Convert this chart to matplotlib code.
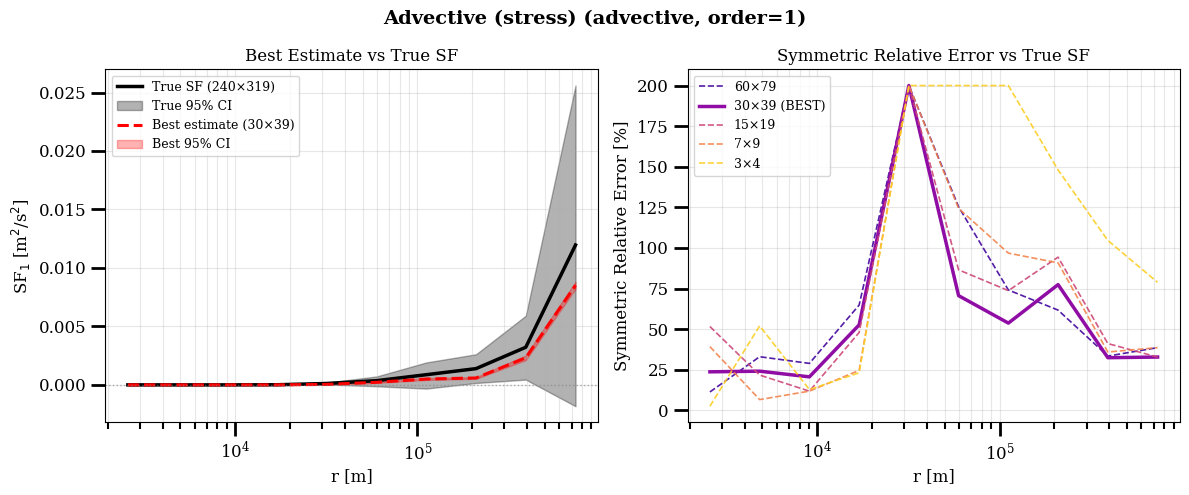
import numpy as np
import matplotlib
matplotlib.use("Agg")
import matplotlib.pyplot as plt

plt.rcParams['font.family'] = ['DejaVu Serif']

# Data
r = [2579, 4834, 9060, 16980, 31820, 59640, 111800, 209500, 392700, 736000]

true_sf = [-0.00002, -0.00002, -0.00002, -0.00001, 0.0001, 0.00034, 0.00085, 0.00137, 0.0032, 0.01195]
true_lo = [-0.00004, -0.00004, -0.00004, -0.00003, 0.00002, -0.00014, -0.00034, 0.00014, 0.00043, -0.00185]
true_hi = [0.00001, 0.00001, 0.00001, 0.00002, 0.00018, 0.0007, 0.0019, 0.0026, 0.0059, 0.0256]

best_sf = [-0.00002, -0.00002, -0.00002, -0.00002, 0.00002, 0.0002, 0.00048, 0.00057, 0.0023, 0.0085]
best_lo = [-0.00003, -0.00003, -0.00003, -0.00003, 0.0, 0.00015, 0.0004, 0.0005, 0.0021, 0.0082]
best_hi = [-0.00001, -0.00001, -0.00001, -0.00001, 0.00004, 0.00025, 0.00056, 0.00064, 0.0025, 0.0088]

err_labels = ['60×79', '30×39 (BEST)', '15×19', '7×9', '3×4']
err_60x79 = [11.3, 33.0, 28.9, 64.8, 200.0, 125.3, 74.1, 61.7, 33.4, 38.6]
err_30x39 = [23.7, 24.1, 20.6, 52.6, 200.0, 70.6, 53.7, 77.4, 32.4, 32.8]
err_15x19 = [51.6, 21.7, 11.8, 47.9, 200.0, 86.5, 73.7, 94.3, 41.1, 32.8]
err_7x9 = [39.2, 6.6, 11.8, 24.6, 200.0, 124.3, 96.8, 90.8, 35.9, 38.6]
err_3x4 = [2.5, 52.0, 12.8, 23.1, 200.0, 200.0, 200.0, 148.0, 104.6, 78.8]

fig, (ax1, ax2) = plt.subplots(1, 2, figsize=(11.89, 4.95), dpi=100)
fig.subplots_adjust(left=0.0887, right=0.9924, bottom=0.1469, top=0.8596, wspace=0.182)

# Left panel
ax1.plot(r, true_sf, color='black', lw=2.5, label='True SF (240×319)')
ax1.fill_between(r, true_lo, true_hi, color='black', alpha=0.3, label='True 95% CI')
ax1.plot(r, best_sf, color='red', lw=2.2, ls='--', label='Best estimate (30×39)')
ax1.fill_between(r, best_lo, best_hi, color='red', alpha=0.3, label='Best 95% CI')
ax1.axhline(0, color='gray', ls=':', lw=1, alpha=0.6)
ax1.set_xscale('log')
ax1.set_xlabel('r [m]', fontsize=12)
ax1.set_ylabel('SF$_1$ [m$^2$/s$^2$]', fontsize=12)
ax1.set_title('Best Estimate vs True SF', fontsize=12)
ax1.legend(loc='upper left', fontsize=9)
ax1.grid(True, which='both', alpha=0.3)

# Right panel
colors = plt.cm.plasma([0.1, 0.3, 0.5, 0.7, 0.9])
series = [err_60x79, err_30x39, err_15x19, err_7x9, err_3x4]
for lab, vals, c in zip(err_labels, series, colors):
    if 'BEST' in lab:
        ax2.plot(r, vals, color=c, lw=2.5, ls='-', label=lab)
    else:
        ax2.plot(r, vals, color=c, lw=1.2, ls='--', alpha=0.9, label=lab)
ax2.set_xscale('log')
ax2.set_xlabel('r [m]', fontsize=12)
ax2.set_ylabel('Symmetric Relative Error [%]', fontsize=12)
ax2.set_title('Symmetric Relative Error vs True SF', fontsize=12)
ax2.legend(loc='upper left', fontsize=9)
ax2.grid(True, which='both', alpha=0.3)

for ax in (ax1, ax2):
    ax.tick_params(axis='both', which='major', length=10, width=2, labelsize=12)
    ax.tick_params(axis='both', which='minor', length=5, width=1.5)

fig.suptitle('Advective (stress) (advective, order=1)', fontsize=14, fontweight='bold')
fig.savefig('out.png', dpi=100)
